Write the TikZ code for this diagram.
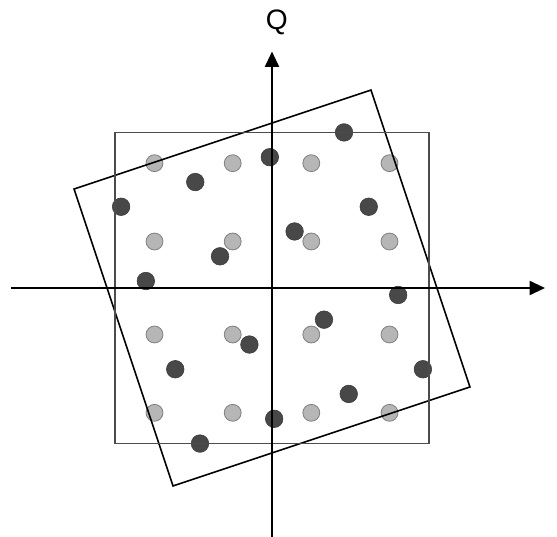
\documentclass[tikz,border=0pt]{standalone}
\usepackage{fontspec}
\setmainfont{Liberation Sans}
\usetikzlibrary{arrows.meta,positioning}
\definecolor{gridfill}{RGB}{182,182,182}
\definecolor{gridedge}{RGB}{130,130,130}
\definecolor{rotfill}{RGB}{72,72,72}
\tikzset{
  gridpt/.style={circle, draw=gridedge, fill=gridfill, line width=0.6pt, minimum size=12pt, inner sep=0pt},
  rotpt/.style={circle, draw=rotfill!80!black, fill=rotfill, line width=0.4pt, minimum size=12.5pt, inner sep=0pt},
  axis/.style={line width=1.5pt, -{Triangle[length=11pt,width=10pt]}},
  frame/.style={line width=1.1pt}
}

\begin{document}
\begin{tikzpicture}[x=0.025cm, y=0.025cm]
    \useasboundingbox (-272,-249) rectangle (285,288);

    \foreach \i/\x in {1/-117.5, 2/-39.3, 3/39.3, 4/117.5}
        \foreach \j/\y in {1/124.8, 2/46.5, 3/-46.5, 4/-124.8}
            \node[gridpt] (g\i\j) at (\x,\y) {};

    \begin{scope}[rotate=18.43]
        \foreach \i/\x in {1/-117.5, 2/-39.3, 3/39.3, 4/117.5}
            \foreach \j/\y in {1/124.8, 2/46.5, 3/-46.5, 4/-124.8}
                \node[rotpt] (r\i\j) at (\x,\y) {};
        \draw[frame, black] (-156.5,-156.5) rectangle (156.5,156.5);
    \end{scope}

    \draw[frame, black!70] (-157,-155.5) rectangle (157,155.5);

    \coordinate (west) at (-261,0);
    \coordinate (east) at (273,0);
    \coordinate (south) at (0,-250);
    \coordinate (north) at (0,236.5);
    \draw[axis] (west) -- (east);
    \draw[axis] (south) -- (north);

    \node[font=\fontsize{20}{24}\selectfont, inner sep=0pt] (qlabel) at (4.7,266) {Q};
\end{tikzpicture}
\end{document}
